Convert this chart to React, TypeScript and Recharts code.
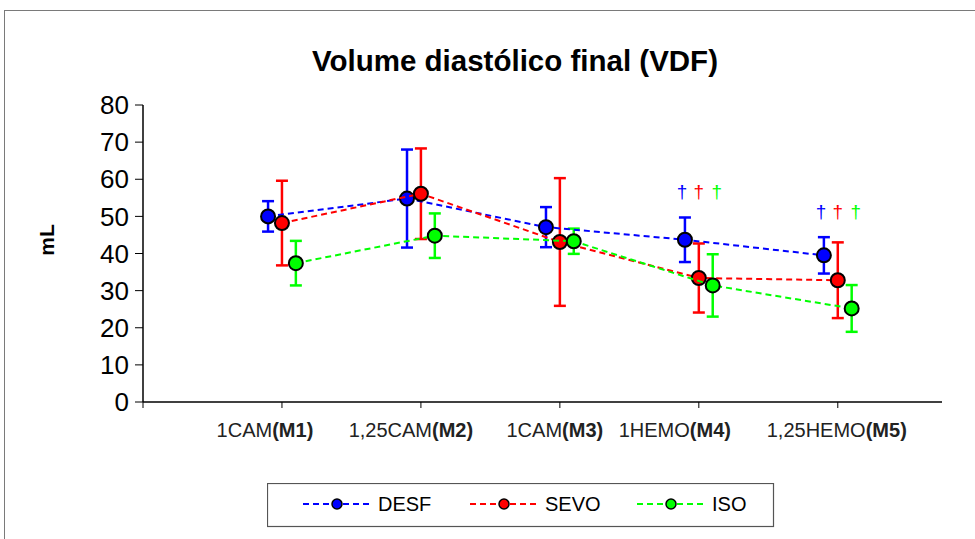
import React from 'react';
import { ComposedChart, Scatter, XAxis, YAxis, ErrorBar, Legend, Customized } from 'recharts';

// ---- data ----
const categoryNames = ['1CAM', '1,25CAM', '1CAM', '1HEMO', '1,25HEMO'];
const momentCodes = ['M1', 'M2', 'M3', 'M4', 'M5'];
const categoryPositions = [1, 2, 3, 4, 5];

const desfMean = [50.0, 54.8, 47.1, 43.7, 39.5];
const desfErr = [4.1, 13.2, 5.4, 6.0, 4.9];
const sevoMean = [48.2, 56.1, 43.1, 33.4, 32.8];
const sevoErr = [11.4, 12.2, 17.2, 9.3, 10.2];
const isoMean = [37.4, 44.8, 43.3, 31.4, 25.2];
const isoErr = [6.0, 6.0, 3.4, 8.4, 6.3];

const yTicks = [0, 10, 20, 30, 40, 50, 60, 70, 80];
const xTicks = [0, 1, 2, 3, 4, 5];

// significance daggers (†) at moments M4 and M5
const daggerMomentIndex = [3, 4];
const daggerLevels = [56.6, 51.2];

// ---- styling ----
const FONT = '"Liberation Sans", Arial, sans-serif';
const series = [
  { name: 'DESF', mean: desfMean, err: desfErr, color: '#0000ff', offset: -0.1, daggerOffset: -0.12 },
  { name: 'SEVO', mean: sevoMean, err: sevoErr, color: '#ff0000', offset: 0, daggerOffset: 0.0 },
  { name: 'ISO', mean: isoMean, err: isoErr, color: '#00ff00', offset: 0.1, daggerOffset: 0.13 },
];
const labelShift = [-17, -10, -5, -24, -1];

const seriesData = series.map((s) =>
  s.mean.map((y, i) => ({ x: categoryPositions[i] + s.offset, y, err: s.err[i] }))
);

const daggerData: { x: number; y: number; color: string }[] = [];
daggerMomentIndex.forEach((ci, k) => {
  series.forEach((s) => {
    daggerData.push({ x: categoryPositions[ci] + s.daggerOffset, y: daggerLevels[k], color: s.color });
  });
});

const makeDot = (color: string) => (props: any) => {
  const { cx, cy } = props;
  if (cx == null || cy == null) return <g />;
  return <circle cx={cx} cy={cy} r={7} fill={color} stroke="#000" strokeWidth={2} />;
};

const daggerShape = (props: any) => {
  const { cx, cy } = props;
  const color = (props.payload && props.payload.color) || props.color;
  return (
    <text x={cx} y={cy} textAnchor="middle" dominantBaseline="central" fill={color} fontSize={19} fontFamily={FONT}>
      †
    </text>
  );
};

const XTick = (props: any) => {
  const { x, y, payload } = props;
  const v = payload.value;
  const idx = categoryPositions.indexOf(v);
  if (idx < 0) return <g />;
  return (
    <text x={x + labelShift[idx]} y={y + 27} textAnchor="middle" fontSize={20} fontFamily={FONT} fill="#222">
      <tspan>{categoryNames[idx]}</tspan>
      <tspan fontWeight="bold">({momentCodes[idx]})</tspan>
    </text>
  );
};

const LegendBox = () => {
  const w = 506;
  const h = 43;
  return (
    <svg width={w + 2} height={h + 2} style={{ display: 'block' }}>
      <rect x={0.5} y={0.5} width={w} height={h} fill="#fff" stroke="#555" strokeWidth={1.2} />
      {series.map((s, i) => {
        const base = 36 + i * 167;
        return (
          <g key={s.name}>
            <line x1={base} x2={base + 67} y1={21} y2={21} stroke={s.color} strokeWidth={2} strokeDasharray="6 4" />
            <circle cx={base + 34} cy={21} r={5} fill={s.color} stroke="#000" strokeWidth={1.5} />
            <text x={base + 75} y={28} fontSize={20} fontFamily={FONT} fill="#000">
              {s.name}
            </text>
          </g>
        );
      })}
    </svg>
  );
};

export default function App() {
  return (
    <div style={{ position: 'absolute', left: 0, top: 0, width: 975, height: 539, overflow: 'hidden', background: '#fff' }}>
      <div
        style={{
          position: 'absolute',
          left: 4,
          top: 10,
          width: 1000,
          height: 600,
          border: '1px solid #7a7a7a',
        }}
      />
      <div style={{ position: 'absolute', left: 0, top: 0 }}>
        <ComposedChart width={975} height={539} margin={{ top: 105, right: 33, bottom: 97, left: 83 }}>
          <XAxis
            type="number"
            dataKey="x"
            domain={[0, 5.75]}
            ticks={xTicks}
            interval={0}
            allowDataOverflow
            height={40}
            axisLine={{ stroke: '#000', strokeWidth: 1.5 }}
            tickLine={{ stroke: '#000', strokeWidth: 1 }}
            tickSize={6}
            tick={<XTick />}
          />
          <YAxis
            type="number"
            dataKey="y"
            domain={[0, 80]}
            ticks={yTicks}
            interval={0}
            allowDataOverflow
            width={60}
            axisLine={{ stroke: '#000', strokeWidth: 1.5 }}
            tickLine={{ stroke: '#000', strokeWidth: 1 }}
            tickSize={8}
            tickMargin={6}
            tick={{ fill: '#000', fontSize: 26, fontFamily: FONT }}
          />
          {series.map((s, i) => (
            <Scatter
              key={s.name}
              name={s.name}
              data={seriesData[i]}
              dataKey="y"
              fill={s.color}
              line={{ stroke: s.color, strokeWidth: 2, strokeDasharray: '6 4' }}
              lineType="joint"
              shape={makeDot(s.color)}
              isAnimationActive={false}
            >
              <ErrorBar dataKey="err" direction="y" width={6} stroke={s.color} strokeWidth={2.5} isAnimationActive={false} />
            </Scatter>
          ))}
          <Scatter name="daggers" data={daggerData} dataKey="y" fill="#000" shape={daggerShape} isAnimationActive={false} legendType="none" />
          <Legend
            layout="horizontal"
            verticalAlign="middle"
            align="center"
            wrapperStyle={{ left: 267, top: 483, width: 508, height: 45 }}
            content={<LegendBox />}
          />
          <Customized
            component={() => (
              <g>
                <text x={515} y={71} textAnchor="middle" fontSize={29.5} fontWeight="bold" fontFamily={FONT} fill="#000">
                  Volume diastólico final (VDF)
                </text>
                <text
                  x={54}
                  y={240}
                  transform="rotate(-90 54 240)"
                  textAnchor="middle"
                  fontSize={21}
                  fontWeight="bold"
                  fontFamily={FONT}
                  fill="#000"
                >
                  mL
                </text>
              </g>
            )}
          />
        </ComposedChart>
      </div>
    </div>
  );
}
